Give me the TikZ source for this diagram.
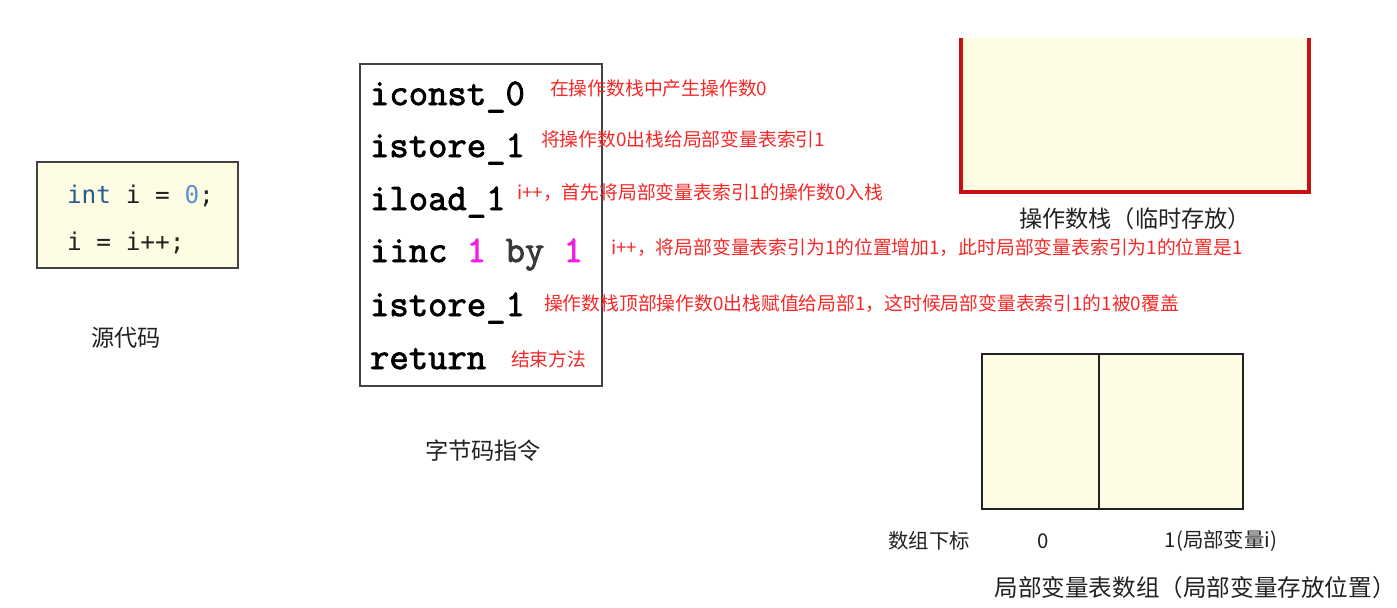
\documentclass[tikz,border=0pt]{standalone}
\usepackage{fontspec}
\setmainfont{Noto Sans CJK SC}
\newfontfamily\codefont{DejaVu Sans Mono}
\newfontfamily\opfont{Latin Modern Mono}[FakeBold=2.2]
\definecolor{paper}{HTML}{FFFCE4}
\definecolor{notered}{HTML}{F52828}
\definecolor{stackred}{HTML}{C81010}
\definecolor{kwblue}{HTML}{2B5C8F}
\definecolor{numblue}{HTML}{5B8FD0}
\definecolor{incpink}{HTML}{F020E0}
\definecolor{ink}{HTML}{222222}
\tikzset{
  caption/.style={font=\fontsize{11.6}{13}\selectfont,text=ink},
  note/.style={anchor=west,font=\fontsize{9.4}{11}\selectfont,text=notered},
  cell/.style={draw=ink,line width=0.8pt,fill=paper,anchor=north west,minimum height=77.5pt}
}
\begin{document}
\begin{tikzpicture}[x=0.5pt,y=-0.5pt,every node/.style={inner sep=0pt,outer sep=0pt}]
\useasboundingbox (0,0) rectangle (1397,607);
% source code
\draw[ink!85,line width=0.9pt,fill=paper] (37,162) rectangle (238,268);
\node[anchor=base west,font=\codefont\fontsize{12.2}{14}\selectfont,text=ink] (src1) at (67,203)
  {\textcolor{kwblue}{int} i = \textcolor{numblue}{0};};
\node[anchor=base west,font=\codefont\fontsize{12.2}{14}\selectfont,text=ink] (src2) at (67,250) {i = i++;};
\node[caption] (srclabel) at (126,338) {源代码};
% bytecode
\draw[ink!85,line width=0.9pt] (360,64) rectangle (602,386);
\foreach \n/\y/\op in {1/105/{iconst\_0},2/157/{istore\_1},3/210/{iload\_1},
    4/262/{iinc \textcolor{incpink}{1} {\color{ink!90}by} \textcolor{incpink}{1}},
    5/316/{istore\_1},6/369/{return}}
  \node[anchor=base west,font=\opfont\bfseries\fontsize{18.8}{20}\selectfont,text=black] (op\n) at (370,\y) {\op};
\node[caption] (oplabel) at (483,451) {字节码指令};
% notes
\foreach \n/\x/\y/\txt in {1/550/88/{在操作数栈中产生操作数0},
    2/541/139/{将操作数0出栈给局部变量表索引1},
    3/517/193/{i++，首先将局部变量表索引1的操作数0入栈},
    4/611/248/{i++，将局部变量表索引为1的位置增加1，此时局部变量表索引为1的位置是1},
    5/544/304/{操作数栈顶部操作数0出栈赋值给局部1，这时候局部变量表索引1的1被0覆盖},
    6/511/359/{结束方法}}
  \node[note] (note\n) at (\x,\y) {\txt};
% operand stack
\fill[paper] (960,38) rectangle (1310,193);
\draw[stackred,line width=2pt] (961,38) -- (961,192) -- (1309,192) -- (1309,38);
\node[caption] (stacklabel) at (1135,219) {操作数栈（临时存放）};
% local variable table
\node[cell,minimum width=58.5pt] (slot0) at (982,354) {};
\node[cell,minimum width=72pt] (slot1) at (slot0.north east) {};
\node[font=\fontsize{10.2}{12}\selectfont,text=ink] (idxlabel) at (929,541) {数组下标};
\node[font=\fontsize{10.2}{12}\selectfont,text=ink] (idx0) at (1043,541) {0};
\node[font=\fontsize{10.2}{12}\selectfont,text=ink] (idx1) at (1221,541) {1(局部变量i)};
\node[caption,font=\fontsize{11.8}{13}\selectfont] (tablelabel) at (1195,588) {局部变量表数组（局部变量存放位置）};
\end{tikzpicture}
\end{document}
